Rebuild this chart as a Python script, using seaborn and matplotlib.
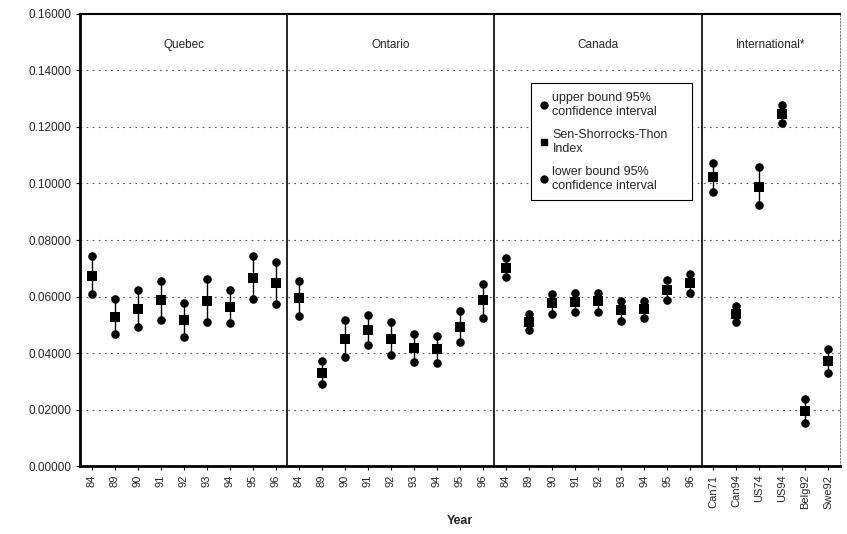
import numpy as np
import pandas as pd
import matplotlib
matplotlib.use("Agg")
import matplotlib.pyplot as plt
import seaborn as sns
from matplotlib.lines import Line2D

regions = ["Quebec", "Ontario", "Canada", "International*"]
years = ["84", "89", "90", "91", "92", "93", "94", "95", "96"]
intl_labels = ["Can71", "Can94", "US74", "US94", "Belg92", "Swe92"]
tick_labels = years * 3 + intl_labels

quebec_upper = [0.0743, 0.0591, 0.0622, 0.0654, 0.0578, 0.0663, 0.0622, 0.0743, 0.0722]
quebec_index = [0.0673, 0.0526, 0.0556, 0.0587, 0.0518, 0.0585, 0.0562, 0.0664, 0.0648]
quebec_lower = [0.0609, 0.0466, 0.0493, 0.0518, 0.0458, 0.0511, 0.0505, 0.0590, 0.0572]

ontario_upper = [0.0656, 0.0373, 0.0517, 0.0536, 0.0511, 0.0466, 0.0460, 0.0550, 0.0645]
ontario_index = [0.0594, 0.0330, 0.0450, 0.0481, 0.0450, 0.0417, 0.0413, 0.0492, 0.0587]
ontario_lower = [0.0532, 0.0289, 0.0386, 0.0427, 0.0392, 0.0369, 0.0366, 0.0439, 0.0525]

canada_upper = [0.0737, 0.0538, 0.0609, 0.0614, 0.0614, 0.0584, 0.0583, 0.0658, 0.0680]
canada_index = [0.0702, 0.0511, 0.0576, 0.0581, 0.0583, 0.0551, 0.0555, 0.0623, 0.0647]
canada_lower = [0.0670, 0.0480, 0.0539, 0.0546, 0.0546, 0.0514, 0.0525, 0.0588, 0.0611]

intl_upper = [0.1074, 0.0566, 0.1057, 0.1278, 0.0237, 0.0413]
intl_index = [0.1022, 0.0538, 0.0989, 0.1246, 0.0196, 0.0373]
intl_lower = [0.0971, 0.0509, 0.0923, 0.1213, 0.0153, 0.0330]

upper = quebec_upper + ontario_upper + canada_upper + intl_upper
index = quebec_index + ontario_index + canada_index + intl_index
lower = quebec_lower + ontario_lower + canada_lower + intl_lower
group_sizes = [len(years), len(years), len(years), len(intl_labels)]

n = len(tick_labels)
pos = np.arange(n)
df = pd.DataFrame({"pos": np.tile(pos, 3),
                   "value": upper + index + lower,
                   "kind": ["upper"] * n + ["index"] * n + ["lower"] * n})

sns.set_style("white")
plt.rcParams["font.family"] = ["Liberation Sans", "DejaVu Sans"]

fig = plt.figure(figsize=(8.47, 5.34), dpi=100)
ax = fig.add_axes([0.0945, 0.127, 0.897, 0.847])

# confidence interval lines
ax.vlines(pos, lower, upper, colors="black", linewidth=1.0, zorder=2)

sns.scatterplot(data=df[df.kind != "index"], x="pos", y="value", marker="o",
                color="black", s=38, edgecolor="black", linewidth=0, ax=ax,
                legend=False, zorder=3)
sns.scatterplot(data=df[df.kind == "index"], x="pos", y="value", marker="s",
                color="black", s=48, edgecolor="black", linewidth=0, ax=ax,
                legend=False, zorder=4)

ax.set_xlim(-0.5, n - 0.5)
ax.set_ylim(0, 0.16)
yt = np.arange(0, 0.1601, 0.02)
ax.set_yticks(yt)
ax.set_yticklabels([f"{v:.5f}" for v in yt], fontsize=8.5)
ax.set_xticks(pos)
ax.set_xticklabels(tick_labels, rotation=90, fontsize=8)
ax.tick_params(axis="both", length=3, width=0.8, direction="out", color="black",
               left=True, bottom=True, pad=3)
ax.set_xlabel("Year", fontsize=9, fontweight="bold")
ax.set_ylabel("")

for yv in yt[1:-1]:
    ax.axhline(yv, color="#555555", linestyle=(0, (1.5, 4)), linewidth=0.8, zorder=1)

# group dividers and labels
start = 0
for i, (name, size) in enumerate(zip(regions, group_sizes)):
    if i > 0:
        ax.axvline(start - 0.5, color="black", linewidth=1.2, zorder=1)
    ax.text(start + (size - 1) / 2, 0.149, name, ha="center", va="center", fontsize=8.5)
    start += size

for side in ["left", "bottom"]:
    ax.spines[side].set_linewidth(2.0)
    ax.spines[side].set_color("black")
ax.spines["top"].set_linewidth(1.5)
ax.spines["top"].set_color("black")
ax.spines["right"].set_linewidth(0.6)
ax.spines["right"].set_color("#666666")
ax.spines["right"].set_linestyle((0, (2, 2)))

handles = [
    Line2D([], [], marker="o", color="black", linestyle="none", markersize=5),
    Line2D([], [], marker="s", color="black", linestyle="none", markersize=5),
    Line2D([], [], marker="o", color="black", linestyle="none", markersize=5),
]
labels = ["upper bound 95%\nconfidence interval", "Sen-Shorrocks-Thon\nIndex",
          "lower bound 95%\nconfidence interval"]
leg = ax.legend(handles, labels, loc="upper left",
                bbox_to_anchor=(0.5855, 0.601, 0.228, 0.26), mode="expand",
                fontsize=9, frameon=True, fancybox=False, framealpha=1,
                handlelength=0.6, handletextpad=0.4, labelspacing=0.9,
                borderpad=0.7)
leg.get_frame().set_edgecolor("black")
leg.get_frame().set_linewidth(0.8)

fig.savefig("out.png", dpi=100)
